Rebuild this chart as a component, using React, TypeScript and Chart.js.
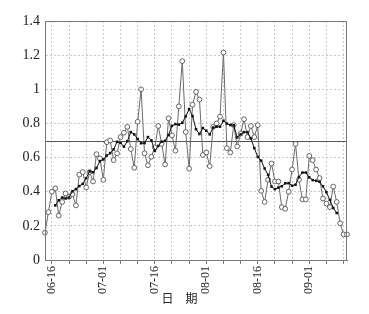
import React, { useEffect, useRef } from "react";
import { Chart, registerables } from "chart.js";

Chart.register(...registerables);

const DATES = [
  "06-14","06-15","06-16","06-17","06-18","06-19","06-20","06-21","06-22","06-23",
  "06-24","06-25","06-26","06-27","06-28","06-29","06-30","07-01","07-02","07-03",
  "07-04","07-05","07-06","07-07","07-08","07-09","07-10","07-11","07-12","07-13",
  "07-14","07-15","07-16","07-17","07-18","07-19","07-20","07-21","07-22","07-23",
  "07-25","07-26","07-27","07-28","07-29","07-30","07-31","08-01","08-02","08-03",
  "08-04","08-05","08-06","08-07","08-08","08-09","08-10","08-11","08-12","08-13",
  "08-14","08-15","08-16","08-17","08-18","08-19","08-20","08-21","08-22","08-23",
  "08-25","08-26","08-27","08-28","08-29","08-30","08-31","09-01","09-02","09-03",
  "09-04","09-05","09-06","09-07","09-08","09-09","09-10","09-11","09-12"
];

const TICK_LABELS = ["06-16", "07-01", "07-16", "08-01", "08-16", "09-01"];

const Y_TICKS = [0, 0.1, 0.2, 0.3, 0.4, 0.5, 0.6, 0.7, 0.8, 0.9, 1, 1.1, 1.2, 1.3, 1.4];

const THRESHOLD = 0.7;

const DAILY = [
  0.16, 0.28, 0.40, 0.42, 0.26, 0.34, 0.39, 0.37, 0.385, 0.32,
  0.50, 0.515, 0.425, 0.515, 0.46, 0.62, 0.595, 0.47, 0.69, 0.70,
  0.585, 0.625, 0.72, 0.745, 0.78, 0.65, 0.54, 0.81, 1.0, 0.625,
  0.555, 0.605, 0.66, 0.785, 0.68, 0.56, 0.83, 0.73, 0.64, 0.90,
  1.165, 0.75, 0.535, 0.91, 0.985, 0.94, 0.615, 0.63, 0.55, 0.78,
  0.80, 0.84, 1.215, 0.655, 0.63, 0.79, 0.665, 0.74, 0.825, 0.72,
  0.785, 0.72, 0.79, 0.405, 0.34, 0.47, 0.565, 0.46, 0.46, 0.31,
  0.30, 0.40, 0.53, 0.68, 0.47, 0.355, 0.355, 0.61, 0.585, 0.53,
  0.48, 0.36, 0.33, 0.31, 0.43, 0.34, 0.215, 0.15, 0.15
];

const AVERAGE = [
  null, null, null, 0.32, 0.35, 0.366, 0.36, 0.366, 0.403, 0.415,
  0.433, 0.446, 0.479, 0.519, 0.514, 0.539, 0.579, 0.589, 0.612, 0.626,
  0.648, 0.692, 0.686, 0.664, 0.696, 0.749, 0.736, 0.709, 0.684, 0.685,
  0.72, 0.701, 0.639, 0.668, 0.693, 0.698, 0.732, 0.786, 0.796, 0.793,
  0.804, 0.841, 0.884, 0.843, 0.766, 0.738, 0.773, 0.757, 0.736, 0.776,
  0.781, 0.781, 0.816, 0.799, 0.791, 0.789, 0.718, 0.736, 0.749, 0.749,
  0.712, 0.655, 0.604, 0.582, 0.536, 0.499, 0.43, 0.415, 0.424, 0.432,
  0.449, 0.45, 0.435, 0.441, 0.486, 0.512, 0.512, 0.484, 0.468, 0.464,
  0.458, 0.432, 0.397, 0.352, 0.305, 0.275, null, null, null
];

const X_TITLE = "日\u3000期";

const GRID_COLOR = "#c8c8c8";
const isGridIdx = (i: number) => (i - 2) % 5 === 0;

const framePlugin = {
  id: "frame",
  beforeDatasetsDraw(chart: any) {
    const { ctx, chartArea: a, scales } = chart;
    const y = Math.round(scales.y.getPixelForValue(THRESHOLD)) + 0.5;
    ctx.save();
    ctx.strokeStyle = "#555";
    ctx.lineWidth = 1;
    ctx.beginPath();
    ctx.moveTo(a.left, y);
    ctx.lineTo(a.right, y);
    ctx.stroke();
    ctx.restore();
  },
  afterDraw(chart: any) {
    const { ctx, chartArea: a } = chart;
    ctx.save();
    ctx.strokeStyle = "#777";
    ctx.lineWidth = 1;
    ctx.strokeRect(Math.round(a.left) + 0.5, Math.round(a.top) + 0.5, Math.round(a.width) - 1, Math.round(a.height));
    ctx.fillStyle = "#222";
    ctx.font = '12px "Noto Sans CJK SC"';
    ctx.textAlign = "center";
    ctx.textBaseline = "middle";
    ctx.fillText(X_TITLE, a.left + a.width * 0.445, 298);
    ctx.restore();
  },
};

export default function App() {
  const ref = useRef<HTMLCanvasElement | null>(null);

  useEffect(() => {
    if (!ref.current) return;
    const chart = new Chart(ref.current, {
      type: "line",
      data: {
        labels: DATES,
        datasets: [
          {
            label: "average",
            data: AVERAGE as any,
            borderColor: "#111",
            borderWidth: 1,
            backgroundColor: "#111",
            pointStyle: "rect",
            pointRadius: 1.8,
            pointBorderWidth: 0,
            spanGaps: false,
            tension: 0,
          },
          {
            label: "daily",
            data: DAILY,
            borderColor: "#6a6a6a",
            borderWidth: 1,
            backgroundColor: "#fff",
            pointBackgroundColor: "#fff",
            pointBorderColor: "#555",
            pointBorderWidth: 0.9,
            pointRadius: 2.4,
            tension: 0,
          },
        ],
      },
      options: {
        responsive: true,
        maintainAspectRatio: false,
        animation: false,
        layout: { padding: { top: 21, right: 22, left: 0, bottom: 0 } },
        plugins: {
          legend: { display: false },
          tooltip: { enabled: false },
          title: { display: false },
        },
        scales: {
          x: {
            type: "category",
            offset: false,
            afterFit: (s: any) => {
              s.height = 54;
            },
            grid: {
              color: (c: any) => (isGridIdx(c.index) ? GRID_COLOR : "rgba(0,0,0,0)"),
              tickColor: (c: any) => (isGridIdx(c.index) ? "#777" : "rgba(0,0,0,0)"),
              lineWidth: 1,
              drawTicks: true,
              tickLength: 4,
            } as any,
            border: { display: true, color: "#777", width: 1, dash: [2, 2] } as any,
            ticks: {
              autoSkip: false,
              minRotation: 90,
              maxRotation: 90,
              padding: 2,
              color: "#222",
              font: { family: '"Liberation Serif"', size: 12 },
              callback: (_v: any, i: number) => (TICK_LABELS.includes(DATES[i]) ? DATES[i] : ""),
            },
          },
          y: {
            min: 0,
            max: 1.4,
            afterFit: (s: any) => {
              s.width = 45;
            },
            afterBuildTicks: (s: any) => {
              s.ticks = Y_TICKS.map((v) => ({ value: v }));
            },
            grid: {
              color: GRID_COLOR,
              lineWidth: 1,
              drawTicks: false,
            },
            border: { display: true, color: "#777", width: 1, dash: [2, 2] } as any,
            ticks: {
              padding: 5,
              color: "#222",
              font: { family: '"Liberation Serif"', size: 14 },
              callback: (v: any) => String(Number(Number(v).toFixed(1))),
            },
          },
        },
      },
      plugins: [framePlugin],
    });
    return () => chart.destroy();
  }, []);

  return (
    <div style={{ position: "fixed", left: 0, top: 0, width: 369, height: 314, background: "#fff" }}>
      <canvas ref={ref} />
    </div>
  );
}
